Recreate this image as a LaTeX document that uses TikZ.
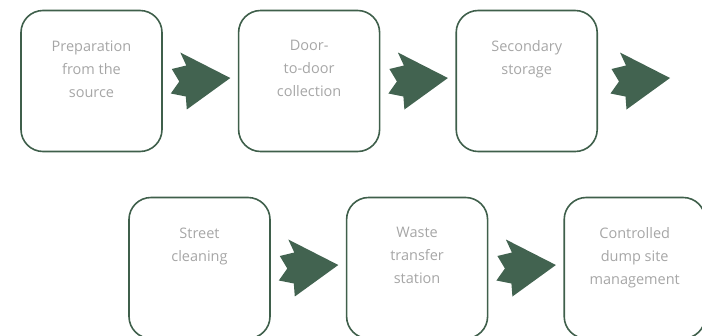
\documentclass[tikz,border=0pt]{standalone}
\usepackage{fontspec}
\setmainfont{Open Sans}
\usepackage{tikz}
\usetikzlibrary{positioning,calc}
\definecolor{boxgreen}{HTML}{3F5F4B}
\definecolor{arrowgreen}{HTML}{426350}
\definecolor{txtgray}{HTML}{A6A6A6}
\newcommand{\stg}[1]{\parbox[c][125pt][t]{125pt}{\centering\vspace*{22pt}#1}}
\tikzset{%
  stage/.style = {rectangle,draw=boxgreen,line width=1.6pt,
        rounded corners=22pt,inner sep=8pt,text=txtgray,
        font=\fontsize{14.5}{23}\selectfont},
  fwd/.pic = {\fill[arrowgreen] (30,-3) -- (-20,-28.5) -- (-14,-15.5)
        -- (-28.5,-12) -- (-21,0.5) -- (-29.5,12.5) -- (-14.5,15.5)
        -- (-13.5,28.5) -- cycle;}
}
\begin{document}
\begin{tikzpicture}[x=1pt,y=-1pt,node distance=75pt]
\useasboundingbox (0,0) rectangle (702,335);
\clip (0,0) rectangle (702,335);
% first row
\node[stage] (prep) at (91.5,81) {\stg{Preparation\\from the\\source}};
\node[stage,right=of prep] (door) {\stg{Door-\\to-door\\collection}};
\node[stage,right=of door] (store) {\stg{Secondary\\storage}};
% second row
\node[stage] (street) at (199.5,268) {\stg{Street\\cleaning}};
\node[stage,right=of street] (transfer) {\stg{Waste\\transfer\\station}};
\node[stage,right=of transfer] (dump) {\stg{Controlled\\dump site\\management}};
% arrows
\pic at ($(prep.east)!0.5!(door.west)$) {fwd};
\pic at ($(door.east)!0.5!(store.west)$) {fwd};
\pic at ($(store.east)+(42,0)$) {fwd};
\pic at ($(street.east)!0.5!(transfer.west)$) {fwd};
\pic at ($(transfer.east)!0.5!(dump.west)$) {fwd};
\end{tikzpicture}
\end{document}
